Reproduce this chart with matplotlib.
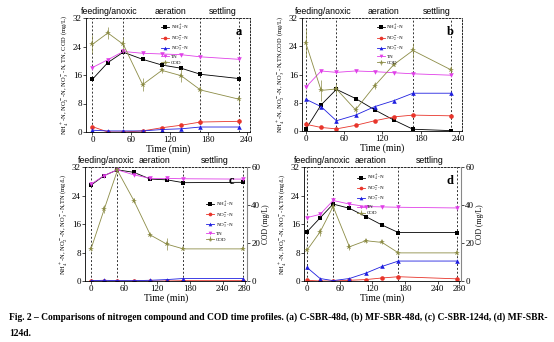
import matplotlib.pyplot as plt

plt.rcParams["font.family"] = ["Liberation Serif", "DejaVu Serif"]
plt.rcParams["mathtext.fontset"] = "stix"

TIME_48 = [0, 24, 48, 78, 108, 138, 168, 228]
TIME_124 = [0, 24, 48, 78, 108, 138, 168, 276]

# panel a: C-SBR-48d
A_NH4 = [14.8, 19.5, 22.4, 20.4, 18.8, 17.9, 16.2, 15.0]
A_NO2 = [1.5, 0.0, 0.0, 0.3, 1.2, 1.9, 2.8, 3.0]
A_NO3 = [0.5, 0.3, 0.3, 0.3, 0.7, 0.9, 1.4, 1.4]
A_TN = [18.1, 20.3, 22.6, 22.1, 21.9, 21.7, 21.1, 20.4]
A_COD = [24.6, 27.8, 24.6, 13.3, 17.3, 15.8, 11.8, 9.2]
A_COD_ERR = [2.5, 1.8, 2.2, 1.8, 0.8, 1.8, 1.2, 1.0]

# panel b: MF-SBR-48d
B_NH4 = [0.5, 7.4, 11.8, 9.2, 6.0, 3.1, 0.5, 0.1]
B_NO2 = [1.9, 1.0, 0.6, 1.6, 2.9, 4.0, 4.5, 4.3]
B_NO3 = [9.0, 6.9, 2.9, 4.5, 6.9, 8.6, 10.7, 10.7]
B_TN = [12.4, 17.0, 16.6, 17.0, 16.8, 16.5, 16.2, 15.8]
B_COD = [24.9, 11.5, 11.9, 6.0, 12.8, 18.8, 22.8, 17.3]
B_COD_ERR = [4.0, 3.0, 1.5, 1.0, 1.0, 0.5, 2.0, 1.0]

# panel c: C-SBR-124d (COD on right axis)
C_NH4 = [26.9, 29.6, 31.2, 30.5, 28.6, 28.4, 27.6, 27.7]
C_NO2 = [0.0, 0.0, 0.0, 0.0, 0.0, 0.0, 0.1, 0.1]
C_NO3 = [0.1, 0.2, 0.1, 0.1, 0.2, 0.4, 0.7, 0.7]
C_TN = [27.2, 29.6, 31.2, 29.8, 28.8, 28.8, 28.7, 28.6]
C_COD = [16.9, 37.8, 58.2, 42.3, 24.2, 19.4, 16.9, 16.9]
C_COD_ERR = [1.0, 2.0, 1.0, 1.5, 0.8, 3.0, 0.8, 0.8]

# panel d: MF-SBR-124d (COD on right axis)
D_NH4 = [13.8, 17.7, 21.6, 20.4, 18.1, 15.7, 13.6, 13.6]
D_NO2 = [0.2, 0.0, 0.0, 0.2, 0.4, 0.85, 1.2, 0.6]
D_NO3 = [3.8, 0.7, 0.1, 0.7, 2.2, 4.1, 5.6, 5.6]
D_TN = [17.8, 18.7, 22.6, 21.6, 20.9, 20.8, 20.7, 20.5]
D_COD = [16.2, 25.8, 39.2, 18.0, 21.2, 20.3, 14.8, 14.8]
D_COD_ERR = [0.8, 2.0, 2.0, 1.5, 1.0, 1.0, 1.0, 1.0]

SERIES = ["NH$_4^+$-N", "NO$_2^-$-N", "NO$_3^-$-N", "TN", "COD"]
COLORS = ["#000000", "#e8352b", "#1f1fe0", "#e040e8", "#8c8c46"]
MARKERS = ["s", "o", "^", "v", "*"]

PHASES = ["feeding/anoxic", "aeration", "settling"]
YLABEL_48 = "NH$_4^+$-N, NO$_2^-$-N, NO$_3^-$-N, TN, COD (mg/L)"
YLABEL_48B = "NH$_4^+$-N, NO$_2^-$-N, NO$_3^-$-N,TN,COD (mg/L)"
YLABEL_124 = "NH$_4^+$-N, NO$_2^-$-N, NO$_3^-$-N,TN (mg/L)"

CAPTION_1 = ("Fig. 2 \u2013 Comparisons of nitrogen compound and COD time profiles. "
             "(a) C-SBR-48d, (b) MF-SBR-48d, (c) C-SBR-124d, (d) MF-SBR-")
CAPTION_2 = "124d."

W, H = 554, 342
fig = plt.figure(figsize=(W / 100, H / 100), dpi=100)


def box(l, r, t, b):
    return [l / W, 1 - b / H, (r - l) / W, (b - t) / H]


def panel(rect, t, vals, cod, cod_err, letter, letter_x, ylabel, xlim, xticks,
          phase_x, legend_anchor, right_axis):
    ax = fig.add_axes(rect)
    lines = []
    for i in range(4):
        ln, = ax.plot(t, vals[i], color=COLORS[i], marker=MARKERS[i], ms=3.3,
                      lw=0.6, mew=0, label=SERIES[i])
        lines.append(ln)

    cax = ax
    if right_axis:
        cax = ax.twinx()
        cax.set_ylim(0, 60)
        cax.set_yticks([0, 20, 40, 60])
        cax.tick_params(labelsize=6.5, length=2, width=0.5, pad=1)
        cax.set_ylabel("COD (mg/L)", fontsize=5.5, labelpad=1)
        for s in ["top", "left", "bottom"]:
            cax.spines[s].set_visible(False)
        cax.spines["right"].set_color("#888888")
        cax.spines["right"].set_linewidth(0.8)
    eb = cax.errorbar(t, cod, yerr=cod_err, color=COLORS[4], marker=MARKERS[4],
                      ms=4.2, lw=0.6, mew=0, elinewidth=0.5, capsize=1.2,
                      capthick=0.5, label=SERIES[4])
    lines.append(eb)

    ax.set_xlim(*xlim)
    ax.set_ylim(0, 32)
    ax.set_xticks(xticks)
    ax.set_yticks([0, 8, 16, 24, 32])
    ax.tick_params(labelsize=6.5, length=2, width=0.5, pad=1)
    ax.set_xlabel("Time (min)", fontsize=7, labelpad=0)
    ax.set_ylabel(ylabel, fontsize=4.7, labelpad=1)

    for s in ["top", "right"]:
        ax.spines[s].set_linestyle((0, (2, 2)))
        ax.spines[s].set_linewidth(0.6)
    for s in ["left", "bottom"]:
        ax.spines[s].set_linewidth(0.6)
    if right_axis:
        ax.spines["right"].set_visible(False)

    for x in [t[0], t[2], t[6], t[7]]:
        ax.axvline(x, color="#333333", lw=0.7, ls=(0, (2, 2)), zorder=0)

    for label, x in zip(PHASES, phase_x):
        ax.text(x, 32.6, label, ha="center", va="bottom", fontsize=6.3,
                family=["Liberation Sans", "DejaVu Sans"])

    ax.text(letter_x, 0.93, letter, transform=ax.transAxes, ha="right", va="top",
            fontsize=9, fontweight="bold")

    leg = ax.legend(handles=lines, loc="upper left", bbox_to_anchor=legend_anchor,
                    fontsize=3.6, frameon=False, handlelength=1.7,
                    handletextpad=0.3, labelspacing=0.3, borderpad=0,
                    markerscale=0.8)
    if right_axis:
        leg.remove()
        cax.add_artist(leg)
    return ax


panel(box(86, 250, 18, 132), TIME_48, [A_NH4, A_NO2, A_NO3, A_TN], A_COD,
      A_COD_ERR, "a", 0.95, YLABEL_48, (-10, 245), [0, 60, 120, 180, 240],
      [26, 121, 203], (0.44, 0.98), False)
panel(box(302, 462, 18, 131), TIME_48, [B_NH4, B_NO2, B_NO3, B_TN], B_COD,
      B_COD_ERR, "b", 0.95, YLABEL_48B, (-6, 245), [0, 60, 120, 180, 240],
      [27, 122, 205], (0.45, 0.98), False)
panel(box(85, 247, 167, 281), TIME_124, [C_NH4, C_NO2, C_NO3, C_TN], C_COD,
      C_COD_ERR, "c", 0.92, YLABEL_124, (-11, 284), [0, 60, 120, 180, 240, 280],
      [28, 116, 225], (0.73, 0.74), True)
panel(box(304, 461, 167, 281), TIME_124, [D_NH4, D_NO2, D_NO3, D_TN], D_COD,
      D_COD_ERR, "d", 0.95, YLABEL_124, (-5.5, 283), [0, 60, 120, 180, 240, 280],
      [28, 116, 226], (0.32, 0.97), True)

fig.text(9 / W, 1 - 317 / H, CAPTION_1, fontsize=6.85, fontweight="bold",
         va="center", ha="left")
fig.text(9 / W, 1 - 333 / H, CAPTION_2, fontsize=6.85, fontweight="bold",
         va="center", ha="left")

fig.savefig("out.png", dpi=100)
